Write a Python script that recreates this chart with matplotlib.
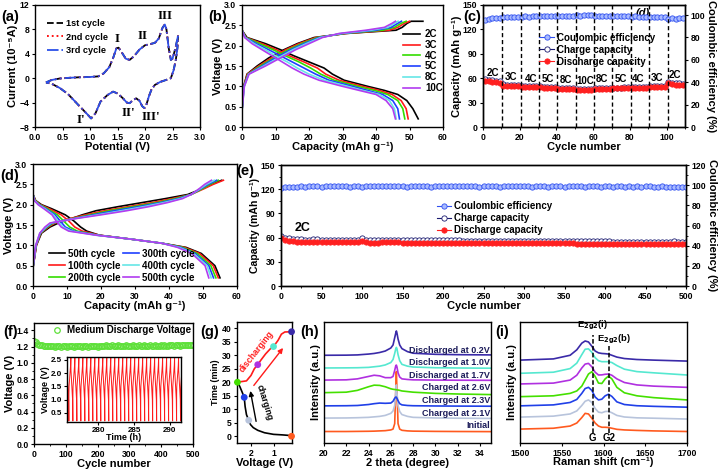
import matplotlib
matplotlib.use('Agg')
import matplotlib.pyplot as plt
import numpy as np
from matplotlib.lines import Line2D

plt.rcParams['font.family'] = ['Liberation Sans', 'DejaVu Sans']
plt.rcParams['font.weight'] = 'bold'
plt.rcParams['axes.labelweight'] = 'bold'
plt.rcParams['mathtext.default'] = 'bf'
plt.rcParams['font.size'] = 6
plt.rcParams['axes.linewidth'] = 1.0
for a in ('xtick', 'ytick'):
    plt.rcParams[a + '.direction'] = 'out'
    plt.rcParams[a + '.major.size'] = 2.5
    plt.rcParams[a + '.major.width'] = 0.8
    plt.rcParams[a + '.minor.size'] = 1.5
    plt.rcParams[a + '.minor.width'] = 0.6
    plt.rcParams[a + '.major.pad'] = 1.5
    plt.rcParams[a + '.labelsize'] = 6.2

# ---------------- data ----------------
# (a) CV loop, identical for the three cycles
cv_v = [0.2, 0.3, 0.45, 0.6, 0.8, 1.0, 1.15, 1.25, 1.35, 1.42, 1.48, 1.52, 1.58, 1.65, 1.72,
        1.8, 1.9, 2.0, 2.1, 2.18, 2.25, 2.32, 2.36, 2.39, 2.43, 2.47, 2.5, 2.55, 2.6,
        2.59, 2.56, 2.52, 2.47, 2.38, 2.28, 2.18, 2.12, 2.07, 2.02, 1.99, 1.95, 1.9, 1.84,
        1.78, 1.72, 1.67, 1.6, 1.5, 1.42, 1.32, 1.19, 1.1, 1.02, 0.95, 0.8, 0.6, 0.45, 0.3, 0.2]
cv_i = [-0.7, -0.3, -0.05, 0.05, 0.15, 0.2, 0.3, 0.8, 1.8, 3.3, 4.9, 5.0, 4.2, 3.2, 3.0,
        3.6, 4.7, 5.4, 5.6, 5.8, 6.5, 8.3, 8.8, 8.0, 5.0, 3.0, 3.2, 4.8, 6.9,
        5.0, 3.0, 1.3, 0.0, -0.3, -0.6, -1.1, -1.8, -3.0, -4.5, -4.9, -4.6, -3.7, -3.3,
        -3.6, -4.1, -4.0, -3.3, -2.5, -2.2, -2.75, -3.85, -5.75, -6.6, -5.9, -4.5, -2.6, -1.6, -0.9, -0.7]
cv_peaks = ['I', 'II', 'III', "I'", "II'", "III'"]
cv_peak_x = [1.5, 1.96, 2.36, 0.83, 1.69, 2.1]
cv_peak_y = [6.5, 6.9, 10.2, -6.9, -5.75, -6.3]

# (b) rate profiles
rates = ['2C', '3C', '4C', '5C', '8C', '10C']
rate_colors = ['black', '#ff1a1a', '#33dd00', '#1f3fff', '#66e6e6', '#b23cf0']
b_chg_v = [0.4, 1.0, 1.3, 1.5, 1.7, 1.9, 2.05, 2.2, 2.3, 2.38, 2.45, 2.55, 2.6, 2.6]
b_chg_cap = [
    [0, 0.5, 1.5, 4.5, 8.0, 12.5, 16.5, 21.5, 31, 46.0, 47.8, 49.3, 50.5, 54.0],
    [0, 0.5, 1.6, 5.0, 8.8, 13.0, 17.0, 22.0, 31, 44.0, 46.5, 48.5, 50.0, 50.0],
    [0, 0.6, 1.8, 5.5, 9.5, 13.8, 17.8, 22.5, 30.5, 42.0, 45.5, 47.5, 49.0, 49.0],
    [0, 0.6, 1.9, 6.0, 10.0, 14.5, 18.5, 23.0, 30, 40.0, 44.5, 46.5, 47.6, 47.6],
    [0, 0.7, 2.0, 6.5, 10.8, 15.2, 19.2, 23.5, 29.5, 38.5, 43.5, 45.5, 46.6, 46.6],
    [0, 0.7, 2.1, 7.0, 11.5, 16.0, 20.0, 24.0, 29, 37.0, 42.5, 44.8, 45.8, 45.8],
]
b_dis_v = [2.38, 2.2, 2.05, 1.9, 1.75, 1.6, 1.45, 1.3, 1.15, 1.0, 0.9, 0.8, 0.65, 0.45, 0.2]
b_dis_cap = [
    [0, 1.5, 7.0, 11.5, 15.5, 20.0, 24.5, 27.0, 30.5, 37.5, 42.5, 46.5, 49.2, 51.0, 52.6],
    [0, 1.2, 6.0, 10.3, 14.2, 18.5, 22.5, 25.0, 29.0, 36.0, 41.0, 44.8, 47.5, 49.0, 49.6],
    [0, 1.1, 5.2, 9.3, 13.0, 17.0, 20.5, 23.5, 27.5, 34.5, 39.5, 43.5, 46.5, 48.0, 48.6],
    [0, 1.0, 4.3, 8.0, 11.5, 15.0, 18.5, 22.0, 26.0, 33.0, 37.5, 42.0, 45.0, 46.5, 47.0],
    [0, 0.9, 3.6, 7.0, 10.0, 13.5, 16.5, 20.0, 24.5, 31.5, 36.0, 41.0, 44.0, 45.5, 46.0],
    [0, 0.8, 3.0, 6.0, 9.0, 12.0, 15.0, 18.5, 23.0, 30.0, 35.0, 40.0, 43.0, 45.0, 45.8],
]

# (c) rate capability, every second cycle
c_cycles = list(range(1, 110, 2))
c_discharge = [56.5, 56.0, 55.5, 55.0, 54.5, 51.0, 50.6, 50.4, 50.3, 50.2,
               49.6, 49.4, 49.3, 49.2, 49.1, 48.6, 48.4, 48.2, 48.1, 48.0,
               47.2, 47.0, 46.8, 46.7, 46.6, 45.8, 45.5, 45.3, 45.3, 45.4,
               46.4, 46.5, 46.5, 46.6, 46.6, 47.4, 47.5, 47.5, 47.6, 47.6,
               48.3, 48.4, 48.4, 48.5, 48.5, 49.0, 49.1, 49.1, 49.2, 49.2,
               53.5, 52.6, 52.2, 52.0, 51.8]
c_charge = [59.0, 58.0, 57.3, 56.8, 56.3, 52.6, 52.1, 51.9, 51.8, 51.6,
            51.0, 50.8, 50.6, 50.5, 50.4, 49.9, 49.6, 49.4, 49.3, 49.2,
            48.4, 48.1, 47.9, 47.8, 47.7, 47.0, 46.6, 46.4, 46.3, 46.4,
            47.4, 47.5, 47.5, 47.6, 47.6, 48.4, 48.5, 48.5, 48.6, 48.6,
            49.3, 49.4, 49.4, 49.5, 49.5, 50.2, 50.2, 50.2, 50.3, 50.3,
            55.5, 54.4, 53.9, 53.6, 53.4]
c_ce = [96.0, 96.5, 97.0, 97.2, 97.5, 98.0, 98.2, 98.3, 98.4, 98.5,
        98.6, 98.8, 98.7, 98.9, 99.0, 99.0, 99.2, 99.1, 99.3, 99.2,
        99.4, 99.3, 99.5, 99.4, 99.6, 99.8, 99.6, 99.9, 100.2, 99.7,
        99.5, 99.6, 99.4, 99.5, 99.3, 99.2, 99.0, 99.1, 98.9, 99.0,
        98.7, 98.8, 98.6, 98.7, 98.5, 98.4, 98.2, 98.3, 98.1, 98.0,
        96.8, 97.0, 96.9, 97.1, 97.0]
c_switch = [10.5, 20.5, 30.5, 40.5, 50.5, 60.5, 70.5, 80.5, 90.5, 100.5]
c_rate_labels = ['2C', '3C', '4C', '5C', '8C', '10C', '8C', '5C', '4C', '3C', '2C']
c_label_x = [5.5, 15, 26, 35.5, 45, 55.5, 65, 75, 84.5, 94.5, 104.5]
c_label_y = [67, 61, 59, 59, 58, 57, 58.5, 59, 59, 60, 64]

# (d) long-cycling profiles
d_names = ['50th cycle', '100th cycle', '200th cycle', '300th cycle', '400th cycle', '500th cycle']
d_chg_v = [0.45, 1.0, 1.3, 1.45, 1.55, 1.65, 1.75, 1.85, 1.95, 2.05, 2.15, 2.25, 2.4, 2.5, 2.6]
d_chg_cap = [
    [0, 1.0, 2.5, 5.0, 7.5, 11.0, 14.5, 18.5, 25.0, 32.0, 39.0, 45.5, 50.0, 52.5, 55.5],
    [0, 1.0, 2.3, 4.5, 6.5, 10.5, 15.5, 21.0, 28.0, 35.0, 41.0, 46.5, 50.5, 53.0, 56.0],
    [0, 0.9, 2.2, 4.2, 6.0, 11.2, 16.8, 22.5, 29.5, 36.5, 42.0, 46.5, 50.0, 52.0, 54.5],
    [0, 0.9, 2.1, 4.0, 5.6, 11.5, 17.8, 24.0, 31.0, 37.5, 42.8, 46.5, 49.6, 51.5, 54.0],
    [0, 0.8, 2.0, 3.8, 5.3, 11.8, 19.0, 26.0, 32.5, 38.5, 43.5, 46.5, 49.3, 51.0, 53.3],
    [0, 0.8, 2.0, 3.5, 5.0, 12.0, 20.0, 27.5, 34.0, 39.5, 44.0, 46.5, 49.0, 50.5, 52.5],
]
d_dis_v = [2.25, 2.1, 2.0, 1.9, 1.75, 1.6, 1.45, 1.35, 1.25, 1.15, 1.05, 0.95, 0.8, 0.5, 0.2]
d_dis_cap = [
    [0, 0.8, 2.5, 5.5, 9.5, 12.0, 14.0, 15.8, 19.5, 29, 38, 45.0, 49.5, 53.5, 55.0],
    [0, 0.7, 2.2, 4.8, 8.3, 10.5, 12.3, 14.5, 19.5, 29, 38, 44.5, 49.0, 53.0, 54.5],
    [0, 0.6, 2.0, 4.2, 7.2, 9.0, 10.8, 13.0, 19.0, 29, 38, 44.0, 48.3, 52.3, 53.8],
    [0, 0.5, 1.8, 3.8, 6.5, 8.0, 9.5, 12.0, 19.0, 29, 38, 43.5, 47.7, 51.7, 53.1],
    [0, 0.5, 1.6, 3.5, 6.0, 7.3, 8.8, 11.2, 18.5, 29, 38, 43.0, 47.2, 51.2, 52.4],
    [0, 0.4, 1.5, 3.2, 5.6, 6.8, 8.3, 10.5, 18.5, 29, 38, 42.5, 46.7, 50.6, 51.7],
]

# (e) 500 cycles at 2C, every fifth cycle
e_cycles = list(range(0, 501, 5))
e_discharge = [59.0, 57.2, 56.0, 55.5, 55.0, 54.8, 54.6, 54.6, 55.0, 54.8, 54.6, 54.5, 54.4, 54.4, 54.3, 54.3, 54.2, 54.2, 54.3, 54.6, 56.0,
               54.5, 53.6, 53.5, 53.8, 54.0, 54.0, 54.0, 54.0, 54.0, 53.9, 53.9, 53.9, 53.8, 53.8, 53.8, 53.8, 53.7, 53.7, 53.7, 53.7,
               53.6, 53.6, 53.6, 53.5, 53.5, 53.5, 53.5, 53.4, 53.4, 53.4, 53.3, 53.3, 53.3, 53.3, 53.2, 53.2, 53.2, 53.2, 53.1, 53.1,
               53.0, 53.0, 53.0, 52.9, 52.9, 52.9, 52.8, 52.8, 52.8, 52.7, 52.7, 52.7, 52.6, 52.6, 52.6, 52.5, 52.5, 52.5, 52.4, 52.4,
               52.3, 52.3, 52.2, 52.2, 52.2, 52.1, 52.1, 52.0, 52.0, 52.0, 51.9, 51.9, 51.8, 51.8, 51.8, 51.7, 51.7, 51.6, 51.6, 51.5]
e_charge = [62.0, 60.0, 59.0, 58.5, 58.0, 57.8, 57.6, 57.6, 58.2, 57.8, 57.6, 57.5, 57.4, 57.4, 57.3, 57.3, 57.2, 57.2, 57.3, 57.6, 59.0,
            57.4, 56.6, 56.5, 56.8, 57.0, 57.0, 57.0, 57.0, 56.9, 56.9, 56.9, 56.8, 56.8, 56.8, 56.8, 56.7, 56.7, 56.7, 56.6, 56.6,
            56.6, 56.5, 56.5, 56.5, 56.4, 56.4, 56.4, 56.3, 56.3, 56.3, 56.2, 56.2, 56.2, 56.1, 56.1, 56.1, 56.0, 56.0, 56.0, 55.9,
            55.9, 55.9, 55.8, 55.8, 55.8, 55.7, 55.7, 55.6, 55.6, 55.6, 55.5, 55.5, 55.5, 55.4, 55.4, 55.4, 55.3, 55.3, 55.3, 55.2,
            55.2, 55.1, 55.1, 55.1, 55.0, 55.0, 54.9, 54.9, 54.9, 54.8, 54.8, 54.7, 54.7, 54.7, 54.6, 54.6, 55.5, 54.5, 54.4, 54.4]
e_ce = [97.2, 98.0, 98.4, 98.6, 98.5, 98.8, 98.6, 98.9, 98.7, 98.8, 98.6, 98.9, 98.7, 98.8, 98.9, 98.7, 98.8, 98.6, 98.9, 98.8, 98.5,
        98.9, 99.2, 98.8, 98.7, 98.9, 98.8, 99.0, 98.7, 98.9, 98.8, 98.6, 98.9, 98.7, 98.8, 99.0, 98.8, 98.6, 98.9, 98.7, 99.1,
        98.8, 98.9, 98.7, 98.8, 99.0, 98.7, 98.9, 98.8, 98.6, 98.9, 98.8, 98.7, 98.9, 98.6, 98.8, 98.9, 98.7, 98.8, 98.9, 98.7,
        98.8, 98.6, 98.9, 98.7, 98.8, 98.6, 98.9, 98.7, 98.8, 98.6, 98.7, 98.9, 98.7, 98.8, 98.6, 98.7, 98.9, 98.7, 98.6, 98.8,
        98.7, 98.6, 98.8, 98.7, 98.5, 98.8, 98.6, 98.7, 98.5, 98.7, 98.8, 98.6, 98.5, 98.7, 98.6, 98.4, 98.6, 98.5, 98.4, 98.5]

# (f) medium discharge voltage, every fifth cycle
f_cycles = list(range(0, 501, 5))
f_voltage = [1.27, 1.25, 1.235, 1.225, 1.22, 1.215, 1.21, 1.21, 1.205, 1.21, 1.205, 1.21, 1.205, 1.2, 1.205, 1.21, 1.205, 1.2, 1.205, 1.21, 1.205,
             1.2, 1.205, 1.21, 1.205, 1.2, 1.205, 1.205, 1.21, 1.205, 1.2, 1.205, 1.21, 1.205, 1.2, 1.205, 1.21, 1.205, 1.21, 1.205, 1.2,
             1.205, 1.21, 1.205, 1.21, 1.215, 1.21, 1.205, 1.21, 1.215, 1.21, 1.205, 1.21, 1.215, 1.21, 1.205, 1.21, 1.21, 1.215, 1.21, 1.205,
             1.21, 1.215, 1.21, 1.205, 1.21, 1.215, 1.21, 1.21, 1.215, 1.21, 1.205, 1.21, 1.215, 1.21, 1.21, 1.215, 1.21, 1.205, 1.21, 1.215,
             1.21, 1.215, 1.21, 1.21, 1.215, 1.22, 1.215, 1.21, 1.215, 1.22, 1.215, 1.21, 1.215, 1.22, 1.215, 1.215, 1.22, 1.215, 1.22, 1.215]
# inset: one charge/discharge cycle (time offset in h, voltage), repeated
inset_cycle_t = [0.0, 0.01, 0.03, 0.24, 0.27, 0.28, 0.30, 0.52, 0.55, 0.56]
inset_cycle_v = [0.2, 1.2, 1.5, 2.3, 2.6, 2.6, 2.1, 1.0, 0.4, 0.2]
inset_t0 = 275.3
inset_period = 0.56
inset_ncycles = 30

# (g) voltage-time with sampling points
g_chg_v = [0.2, 0.3, 0.6, 1.0, 1.4, 1.7, 1.9, 2.02, 2.1, 2.2, 2.26, 2.3, 2.4, 2.5, 2.6]
g_chg_t = [0.0, 0.3, 0.5, 0.7, 1.3, 2.2, 3.2, 4.3, 5.9, 8.0, 11.0, 14.4, 16.5, 18.5, 20.0]
g_dis_v = [2.6, 2.45, 2.2, 2.0, 1.85, 1.7, 1.55, 1.35, 1.15, 1.0, 0.8, 0.65, 0.5, 0.2]
g_dis_t = [20.0, 20.2, 20.5, 22.5, 25.0, 26.5, 28.3, 30.5, 32.3, 33.2, 35.5, 37.8, 38.6, 38.7]
g_pts_v = [0.2, 2.1, 2.3, 2.6, 1.7, 1.0, 0.2]
g_pts_t = [0.0, 5.9, 14.4, 20.0, 26.5, 33.2, 38.7]
state_colors = ['#ff5a1f', '#b8c4dc', '#2040e8', '#44e000', '#b030e0', '#55e8d0', '#3a2aa8']

# (h) XRD patterns
states = ['Initial', 'Charged at 2.1V', 'Charged at 2.3V', 'Charged at 2.6V',
          'Discharged at 1.7V', 'Discharged at 1.0V', 'Discharged at 0.2V']
xrd_theta = [20, 22, 23, 24, 24.5, 25, 25.5, 26, 26.2, 26.35, 26.45, 26.5, 26.55, 26.65, 26.8, 27, 27.5, 28, 30, 32, 35]
xrd_int = [
    [0.095, 0.095, 0.096, 0.097, 0.098, 0.100, 0.102, 0.108, 0.115, 0.16, 0.45, 0.59, 0.45, 0.16, 0.115, 0.105, 0.100, 0.098, 0.096, 0.095, 0.094],
    [0.206, 0.207, 0.209, 0.212, 0.216, 0.220, 0.228, 0.245, 0.265, 0.31, 0.42, 0.48, 0.42, 0.31, 0.26, 0.235, 0.220, 0.212, 0.207, 0.205, 0.203],
    [0.307, 0.308, 0.310, 0.318, 0.325, 0.330, 0.328, 0.330, 0.345, 0.37, 0.38, 0.378, 0.37, 0.35, 0.325, 0.315, 0.310, 0.308, 0.306, 0.305, 0.304],
    [0.416, 0.420, 0.435, 0.465, 0.478, 0.476, 0.465, 0.448, 0.444, 0.442, 0.441, 0.440, 0.439, 0.438, 0.435, 0.430, 0.425, 0.420, 0.410, 0.405, 0.400],
    [0.520, 0.522, 0.530, 0.550, 0.560, 0.555, 0.540, 0.540, 0.550, 0.60, 0.64, 0.644, 0.63, 0.58, 0.545, 0.530, 0.525, 0.522, 0.520, 0.519, 0.518],
    [0.620, 0.621, 0.622, 0.625, 0.630, 0.635, 0.645, 0.665, 0.690, 0.74, 0.78, 0.790, 0.78, 0.73, 0.680, 0.650, 0.635, 0.628, 0.622, 0.620, 0.618],
    [0.725, 0.726, 0.728, 0.735, 0.740, 0.748, 0.760, 0.785, 0.810, 0.87, 0.91, 0.926, 0.91, 0.86, 0.810, 0.780, 0.755, 0.742, 0.733, 0.730, 0.728],
]
xrd_label_y = [0.142, 0.247, 0.354, 0.457, 0.559, 0.663, 0.767]

# (i) Raman spectra
raman_shift = [1500, 1540, 1560, 1568, 1574, 1578, 1582, 1586, 1590, 1594, 1598, 1602, 1606, 1610, 1616, 1625, 1640, 1660, 1700]
raman_int = [
    [0.115, 0.122, 0.140, 0.165, 0.210, 0.245, 0.240, 0.205, 0.165, 0.140, 0.130, 0.130, 0.128, 0.122, 0.113, 0.108, 0.104, 0.100, 0.095],
    [0.214, 0.222, 0.240, 0.265, 0.310, 0.345, 0.356, 0.335, 0.285, 0.255, 0.250, 0.260, 0.262, 0.250, 0.228, 0.215, 0.208, 0.205, 0.198],
    [0.307, 0.315, 0.335, 0.360, 0.410, 0.450, 0.460, 0.435, 0.380, 0.356, 0.362, 0.390, 0.403, 0.385, 0.340, 0.318, 0.308, 0.303, 0.296],
    [0.383, 0.390, 0.410, 0.430, 0.470, 0.520, 0.570, 0.589, 0.550, 0.495, 0.492, 0.530, 0.553, 0.530, 0.460, 0.415, 0.390, 0.375, 0.356],
    [0.488, 0.495, 0.520, 0.560, 0.620, 0.652, 0.658, 0.630, 0.585, 0.562, 0.563, 0.568, 0.570, 0.560, 0.530, 0.500, 0.480, 0.470, 0.460],
    [0.576, 0.585, 0.615, 0.660, 0.730, 0.775, 0.778, 0.750, 0.705, 0.680, 0.672, 0.672, 0.672, 0.665, 0.640, 0.610, 0.590, 0.580, 0.562],
    [0.685, 0.695, 0.725, 0.770, 0.825, 0.843, 0.835, 0.800, 0.760, 0.745, 0.740, 0.738, 0.735, 0.725, 0.710, 0.698, 0.690, 0.685, 0.677],
]
raman_marks = [1587, 1606.5]

# ---------------- figure ----------------
W, H = 719, 469
fig = plt.figure(figsize=(W / 100, H / 100), dpi=100)


def box(x0, y0, x1, y1):
    return fig.add_axes([x0 / W, 1 - y1 / H, (x1 - x0) / W, (y1 - y0) / H])


def plabel(x, y, s):
    fig.text(x / W, 1 - y / H, s, fontsize=10.5, fontweight='bold', ha='left', va='center')


LBL = 8
CAP = 'Capacity (mAh g\u207b\u00b9)'
LEG = 7

# (a)
ax = box(35, 5, 200, 127)
ax.plot(cv_v, cv_i, color='black', ls='--', lw=1.3, label='1st cycle')
ax.plot(cv_v, cv_i, color='red', ls=':', lw=1.3, label='2nd cycle')
ax.plot(cv_v, cv_i, color='#2b50e8', ls='-.', lw=1.3, label='3rd cycle')
for s, x, y in zip(cv_peaks, cv_peak_x, cv_peak_y):
    ax.text(x, y, s, family='Liberation Serif', fontsize=9.5, fontweight='bold', ha='center', va='center')
ax.set_xlim(0, 3)
ax.set_ylim(-8, 12)
ax.set_xticks(np.arange(0, 3.01, 0.5))
ax.set_yticks([-8, -4, 0, 4, 8, 12])
ax.set_xlabel('Potential (V)', fontsize=LBL, labelpad=0)
ax.set_ylabel('Current (10\u207b\u2075A)', fontsize=LBL, labelpad=1)
ax.legend(loc='upper left', bbox_to_anchor=(0.04, 0.93), frameon=False, fontsize=6.6,
          handlelength=1.7, labelspacing=0.5, borderpad=0.1, handletextpad=0.35)
plabel(1, 17, '(a)')

# (b)
ax = box(242, 5, 443, 127)
for i in range(len(rates)):
    ax.plot(b_chg_cap[i], b_chg_v, color=rate_colors[i], lw=1.2)
    ax.plot(b_dis_cap[i], b_dis_v, color=rate_colors[i], lw=1.2, label=rates[i])
ax.set_xlim(0, 60)
ax.set_ylim(0, 3.0)
ax.set_xticks(range(0, 61, 10))
ax.set_yticks(np.arange(0, 3.01, 0.5))
ax.set_xlabel(CAP, fontsize=LBL, labelpad=0)
ax.set_ylabel('Voltage (V)', fontsize=LBL, labelpad=1)
ax.legend(loc='upper left', bbox_to_anchor=(0.77, 0.85), frameon=False, fontsize=LEG,
          handlelength=1.8, labelspacing=0.08, handletextpad=0.5, borderpad=0.1)
plabel(208, 17, '(b)')

# (c)
ce_kw = dict(color='#3050f0', marker='o', ms=3.8, mfc='#a8baff', mec='#3050f0', mew=0.6, lw=0.8)
chg_kw = dict(color='#1a1a70', marker='o', ms=3.8, mfc='white', mec='#1a1a70', mew=0.6, lw=0.8)
dis_kw = dict(color='#ff2020', marker='o', ms=3.8, mfc='#ff2020', mec='#ff2020', mew=0.6, lw=0.8)
ax = box(483, 5, 685, 127)
ax.text(87, 140, '(d)', fontsize=8, fontweight='bold', style='italic', ha='center', va='center', zorder=0)
ax.plot(c_cycles, c_charge, **chg_kw)
ax.plot(c_cycles, c_discharge, **dis_kw)
for s, x, y in zip(c_rate_labels, c_label_x, c_label_y):
    ax.text(x, y, s, fontsize=7, fontweight='bold', ha='center', va='center')
ax.set_xlim(0, 110)
ax.set_ylim(0, 150)
ax.set_xticks(range(0, 101, 20))
ax.set_yticks(range(0, 151, 30))
ax.xaxis.set_minor_locator(matplotlib.ticker.MultipleLocator(10))
ax.set_xlabel('Cycle number', fontsize=LBL, labelpad=0)
ax.set_ylabel(CAP, fontsize=LBL, labelpad=1)
ax2 = ax.twinx()
ax2.plot(c_cycles, c_ce, **ce_kw)
for x in c_switch:
    ax2.axvline(x, color='black', ls='--', lw=1.0, dashes=(3, 2))
ax2.set_ylim(0, 109)
ax2.set_yticks(range(0, 101, 20))
ax2.set_ylabel('Coulombic efficiency (%)', fontsize=LBL, rotation=270, labelpad=8)
handles = [Line2D([], [], **ce_kw), Line2D([], [], **chg_kw), Line2D([], [], **dis_kw)]
ax2.legend(handles, ['Coulombic efficiency', 'Charge capacity', 'Discharge capacity'],
           loc='upper left', bbox_to_anchor=(0.25, 0.82), frameon=False, fontsize=LEG,
           handlelength=1.5, labelspacing=0.2, handletextpad=0.3, borderpad=0.1)
plabel(463, 17, '(c)')

# (d)
ax = box(33, 164, 237, 286)
for i in range(len(d_names)):
    ax.plot(d_chg_cap[i], d_chg_v, color=rate_colors[i], lw=1.2)
    ax.plot(d_dis_cap[i], d_dis_v, color=rate_colors[i], lw=1.2, label=d_names[i])
ax.set_xlim(0, 60)
ax.set_ylim(0, 3.0)
ax.set_xticks(range(0, 61, 10))
ax.set_yticks(np.arange(0, 3.01, 0.5))
ax.set_xlabel(CAP, fontsize=LBL, labelpad=0)
ax.set_ylabel('Voltage (V)', fontsize=LBL, labelpad=1)
ax.legend(loc='lower left', bbox_to_anchor=(0.05, -0.02), ncol=2, frameon=False, fontsize=LEG,
          handlelength=1.6, labelspacing=0.2, handletextpad=0.3, columnspacing=0.3, borderpad=0.1)
plabel(0, 176, '(d)')

# (e)
ax = box(281, 165, 686, 286)
ax.plot(e_cycles, e_charge, **chg_kw)
ax.plot(e_cycles, e_discharge, **dis_kw)
ax.text(27, 72, '2C', fontsize=9, fontweight='bold', ha='center', va='center')
ax.set_xlim(0, 500)
ax.set_ylim(0, 150)
ax.set_xticks(range(0, 501, 50))
ax.set_yticks(range(0, 151, 30))
ax.xaxis.set_minor_locator(matplotlib.ticker.MultipleLocator(25))
ax.yaxis.set_minor_locator(matplotlib.ticker.MultipleLocator(15))
ax.set_xlabel('Cycle number', fontsize=LBL, labelpad=0)
ax.set_ylabel(CAP, fontsize=7.6, labelpad=1)
ax2 = ax.twinx()
ax2.plot(e_cycles, e_ce, **ce_kw)
ax2.set_ylim(0, 120)
ax2.set_yticks(range(0, 121, 20))
ax2.yaxis.set_minor_locator(matplotlib.ticker.MultipleLocator(10))
ax2.set_ylabel('Coulombic efficiency (%)', fontsize=LBL, rotation=270, labelpad=8)
ax2.legend(handles, ['Coulombic efficiency', 'Charge capacity', 'Discharge capacity'],
           loc='upper left', bbox_to_anchor=(0.37, 0.75), frameon=False, fontsize=LEG,
           handlelength=1.5, labelspacing=0.2, handletextpad=0.3, borderpad=0.1)
plabel(236, 171, '(e)')

# (f)
ax = box(34, 323, 193, 444)
ax.plot(f_cycles, f_voltage, ls='none', marker='o', ms=4, mfc='none', mec='#5ee03a', mew=0.9,
        label='Medium Discharge Voltage')
ax.set_xlim(0, 500)
ax.set_ylim(0, 1.49)
ax.set_xticks(range(0, 501, 100))
ax.set_yticks(np.arange(0, 1.41, 0.2))
ax.yaxis.set_minor_locator(matplotlib.ticker.MultipleLocator(0.1))
ax.xaxis.set_minor_locator(matplotlib.ticker.MultipleLocator(50))
ax.set_xlabel('Cycle number', fontsize=LBL, labelpad=0)
ax.set_ylabel('Voltage (V)', fontsize=LBL, labelpad=1)
ax.legend(loc='upper left', bbox_to_anchor=(0.08, 1.03), frameon=False, fontsize=LEG,
          handlelength=1.0, handletextpad=0.5, borderpad=0.1)
plabel(3, 332, '(f)')

axi = box(67, 357, 181, 422)
it, iv = [], []
for k in range(inset_ncycles):
    it += [inset_t0 + k * inset_period + t for t in inset_cycle_t]
    iv += inset_cycle_v
axi.plot(it, iv, color='#ff1a1a', lw=0.7)
axi.set_xlim(275.6, 291.6)
axi.set_ylim(0.16, 2.61)
axi.set_xticks([280, 285, 290])
axi.set_yticks([0.5, 1.0, 1.5, 2.0, 2.5])
axi.tick_params(labelsize=5.8, pad=1)
axi.set_xlabel('Time (h)', fontsize=6.5, labelpad=-0.5)
axi.set_ylabel('Voltage (V)', fontsize=6.5, labelpad=0.5)

# (g)
ax = box(237, 322, 292, 443)
ax.plot(g_chg_v, g_chg_t, color='black', lw=1.2)
ax.plot(g_dis_v, g_dis_t, color='#ff1a1a', lw=1.2)
ax.scatter(g_pts_v, g_pts_t, s=24, c=state_colors, zorder=5, clip_on=False, edgecolors='none')
ax.annotate('', xy=(0.5, 33.5), xytext=(1.95, 18.0),
            arrowprops=dict(arrowstyle='-|>', color='#ff1a1a', lw=1.0, mutation_scale=7))
ax.annotate('', xy=(2.05, 17.8), xytext=(1.75, 4.5),
            arrowprops=dict(arrowstyle='-|>', color='black', lw=1.0, mutation_scale=7))
ax.text(1.75, 31.5, 'discharging', color='#ff1a1a', fontsize=6.3, fontweight='bold', rotation=52,
        ha='center', va='center')
ax.text(1.42, 12.5, 'charging', color='black', fontsize=6.3, fontweight='bold', rotation=-73,
        ha='center', va='center')
ax.set_xlim(2.62, 0.18)
ax.set_ylim(-2.5, 42.3)
ax.set_xticks([2, 1])
ax.set_yticks(range(0, 41, 5))
ax.set_xlabel('Voltage (V)', fontsize=LBL, labelpad=0)
ax.set_ylabel('Time (min)', fontsize=6.5, labelpad=1)
plabel(200, 332, '(g)')

# (h)
ax = box(324, 322, 491, 443)
for i in range(len(states)):
    ax.plot(xrd_theta, xrd_int[i], color=state_colors[i], lw=1.2)
    ax.text(34.9, xrd_label_y[i], states[i], color='#1c1c5a', fontsize=6.5, fontweight='bold',
            ha='right', va='center')
ax.set_xlim(20, 35)
ax.set_ylim(0, 1)
ax.set_xticks(range(20, 35, 2))
ax.set_yticks([])
ax.set_xlabel('2 theta (degree)', fontsize=LBL, labelpad=0)
ax.set_ylabel('Intensity (a.u.)', fontsize=LBL, labelpad=2)
plabel(300, 332, '(h)')

# (i)
ax = box(520, 322, 687, 443)
for i in range(len(states)):
    ax.plot(raman_shift, raman_int[i], color=state_colors[i], lw=1.2)
ax.plot([raman_marks[0]] * 2, [0.085, 0.89], color='black', ls='--', lw=1.1, dashes=(3, 1.5))
ax.plot([raman_marks[1]] * 2, [0.085, 0.80], color='black', ls='--', lw=1.1, dashes=(3, 1.5))
ax.text(raman_marks[0], 0.975, 'E$_{2g2}$(i)', fontsize=6.8, ha='center', va='center')
ax.text(raman_marks[1] + 6, 0.855, 'E$_{2g2}$(b)', fontsize=6.8, ha='center', va='center')
ax.text(raman_marks[0], 0.04, 'G', fontsize=7, ha='center', va='center')
ax.text(raman_marks[1], 0.04, 'G2', fontsize=7, ha='center', va='center')
ax.set_xlim(1500, 1700)
ax.set_ylim(0, 1)
ax.set_xticks(range(1500, 1701, 50))
ax.set_yticks([])
ax.set_xlabel('Raman shift (cm\u207b\u00b9)', fontsize=LBL, labelpad=-0.5)
ax.set_ylabel('Intensity (a.u.)', fontsize=LBL, labelpad=2)
plabel(495, 332, '(i)')

fig.savefig('out.png', dpi=100)
